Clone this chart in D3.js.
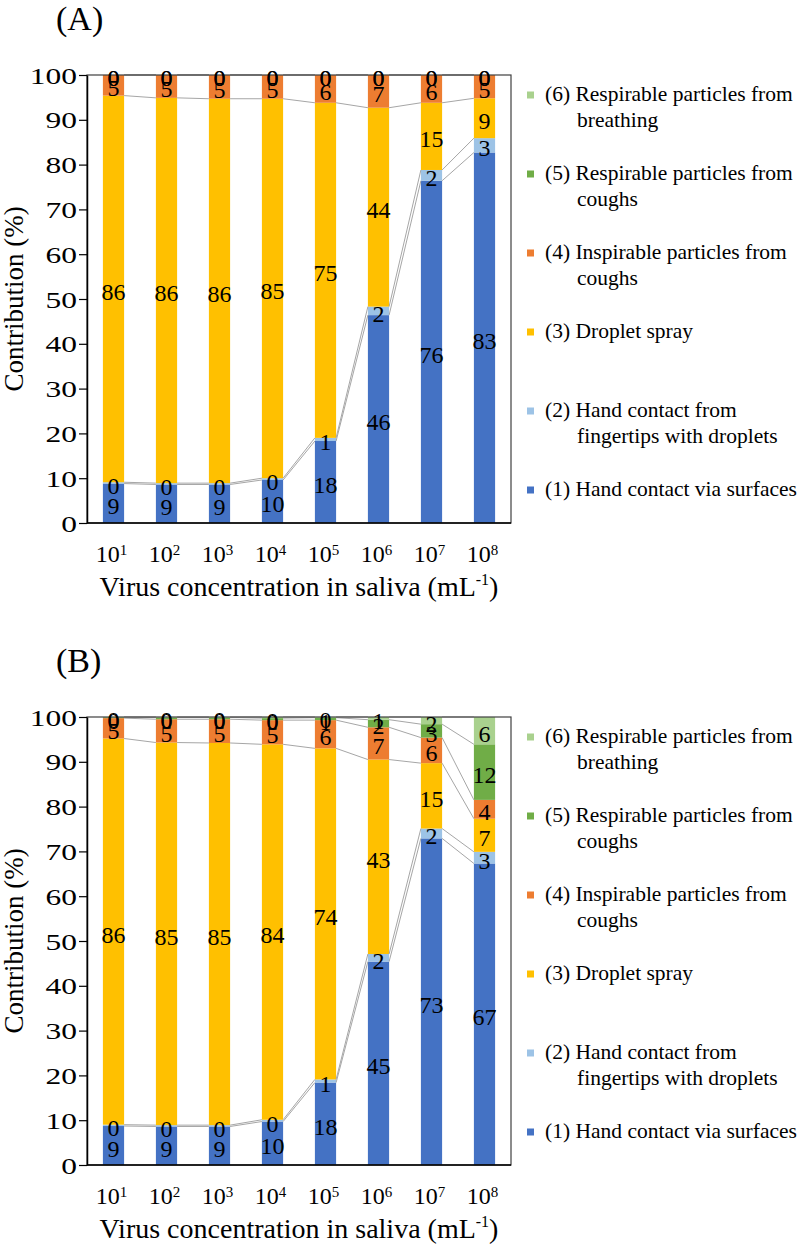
<!DOCTYPE html>
<html><head><meta charset="utf-8">
<script src="https://cdn.jsdelivr.net/npm/d3@7"></script>
<style>
body{margin:0;background:#fff}
svg{display:block}
svg text{font-family:'Liberation Serif','Times New Roman',Times,'DejaVu Serif','Noto Serif',serif !important;fill:#000}
</style>
</head><body>
<svg id="chart" width="799" height="1245" font-family="Liberation Serif, Times New Roman, DejaVu Serif, serif"></svg>
<script>
// ---------- data ----------
const exponents = ["1","2","3","4","5","6","7","8"];
const seriesKeys = ["s1","s2","s3","s4","s5","s6"];
const seriesColors = ["#4472C4","#9DC3E6","#FFC000","#ED7D31","#70AD47","#A9D18E"];
const legendLines = [
  ["(1) Hand contact via surfaces"],
  ["(2) Hand contact from","fingertips with droplets"],
  ["(3) Droplet spray"],
  ["(4) Inspirable particles from","coughs"],
  ["(5) Respirable particles from","coughs"],
  ["(6) Respirable particles from","breathing"]
];
const yTicks = [0,10,20,30,40,50,60,70,80,90,100];
const panelLabels = ["(A)","(B)"];
const xTitle = "Virus concentration in saliva (mL";
const yTitle = "Contribution (%)";

// Panel A (%)
const aHandSurfaces   = [8.8, 8.6, 8.6, 9.6, 18.3, 46.4, 76.4, 82.7];
const aHandFingertips = [0.3, 0.3, 0.3, 0.4, 0.7, 1.9, 2.4, 3.2];
const aDropletSpray   = [86.3, 86.0, 85.8, 84.7, 74.8, 44.4, 15.0, 8.9];
const aInspirable     = [4.6, 5.1, 5.3, 5.3, 6.2, 7.3, 6.2, 5.2];
const aRespCoughs     = [0, 0, 0, 0, 0, 0, 0, 0];
const aRespBreathing  = [0, 0, 0, 0, 0, 0, 0, 0];

// Panel B (%)
const bHandSurfaces   = [8.7, 8.6, 8.6, 9.7, 18.4, 45.4, 72.9, 67.3];
const bHandFingertips = [0.3, 0.3, 0.3, 0.4, 0.7, 1.7, 2.2, 2.6];
const bDropletSpray   = [86.2, 85.4, 85.3, 83.8, 73.9, 43.4, 14.6, 7.4];
const bInspirable     = [4.55, 5.2, 5.3, 5.4, 6.3, 7.2, 5.7, 4.2];
const bRespCoughs     = [0.2, 0.4, 0.4, 0.45, 0.55, 1.7, 3.0, 12.4];
const bRespBreathing  = [0.05, 0.1, 0.1, 0.25, 0.15, 0.6, 1.6, 6.1];

const panels = [
  {label: panelLabels[0], top: 75, series: [aHandSurfaces,aHandFingertips,aDropletSpray,aInspirable,aRespCoughs,aRespBreathing]},
  {label: panelLabels[1], top: 717, series: [bHandSurfaces,bHandFingertips,bDropletSpray,bInspirable,bRespCoughs,bRespBreathing]}
];

// ---------- drawing ----------
const svg = d3.select("#chart");
const plotLeft = 87, plotRight = 511, plotH = 448;
const FONT = "Liberation Serif, Times New Roman, DejaVu Serif, serif";

panels.forEach(p => {
  const top = p.top, bottom = top + plotH;
  const g = svg.append("g").attr("font-family", FONT);
  const rows = exponents.map((e,i) => {
    const r = {exp: e};
    seriesKeys.forEach((k,j) => r[k] = p.series[j][i]);
    return r;
  });
  const stack = d3.stack().keys(seriesKeys)(rows);

  const x = d3.scaleBand().domain(exponents).range([plotLeft, plotRight]).paddingInner(0.6).paddingOuter(0.3);
  const y = d3.scaleLinear().domain([0,100]).range([bottom, top]);
  const bw = x.bandwidth();

  // bars
  stack.forEach((s,j) => {
    g.append("g").attr("fill", seriesColors[j])
      .selectAll("rect").data(s).join("rect")
      .attr("x", d => x(d.data.exp))
      .attr("y", d => y(d[1]))
      .attr("width", bw)
      .attr("height", d => Math.max(0, y(d[0]) - y(d[1])));
  });

  // series lines
  stack.forEach((s,j) => {
    const segs = d3.pairs(s);
    g.append("g").attr("stroke", "#A6A6A6").attr("stroke-width", 1).attr("fill","none")
      .selectAll("line").data(segs).join("line")
      .attr("x1", d => x(d[0].data.exp) + bw)
      .attr("y1", d => y(d[0][1]))
      .attr("x2", d => x(d[1].data.exp))
      .attr("y2", d => y(d[1][1]));
  });

  // frame
  g.append("rect").attr("x", plotLeft).attr("y", top).attr("width", plotRight - plotLeft).attr("height", plotH)
    .attr("fill","none").attr("stroke","#404040").attr("stroke-width",1.2);

  // y axis
  const ya = g.append("g").attr("transform", `translate(${plotLeft},0)`)
    .call(d3.axisLeft(y).tickValues(yTicks).tickSize(8).tickSizeOuter(0).tickPadding(10).tickFormat(d3.format("d")));
  ya.attr("font-family", FONT);
  ya.select(".domain").attr("stroke","#000").attr("stroke-width",1.5);
  ya.selectAll(".tick line").attr("stroke","#000").attr("stroke-width",1.2);
  ya.selectAll(".tick text").attr("font-size", 22.5).attr("font-family", FONT)
    .attr("x", -10/1.4).attr("transform","scale(1.4,1)").attr("dy","0.36em");

  // x axis line
  g.append("line").attr("x1", plotLeft).attr("x2", plotRight).attr("y1", bottom).attr("y2", bottom)
    .attr("stroke","#000").attr("stroke-width",1.5);

  // x tick labels
  const xl = g.append("g").selectAll("text").data(exponents).join("text")
    .attr("x", d => x(d) + bw/2 - 2).attr("y", bottom + 39)
    .attr("text-anchor","middle").attr("font-size", 24);
  xl.append("tspan").text("10");
  xl.append("tspan").attr("font-size", 15).attr("dy", -7).text(d => d);

  // data labels
  stack.forEach((s,j) => {
    g.append("g").selectAll("text").data(s).join("text")
      .attr("x", d => x(d.data.exp) + bw/2)
      .attr("y", d => (y(d[0]) + y(d[1]))/2 + 3)
      .attr("text-anchor","middle").attr("dominant-baseline","central")
      .attr("font-size", 24)
      .text(d => Math.round(d[1] - d[0]));
  });

  // axis titles
  const xt = g.append("text").attr("x", (plotLeft+plotRight)/2).attr("y", bottom + 73)
    .attr("text-anchor","middle").attr("font-size", 28);
  xt.append("tspan").text(xTitle);
  xt.append("tspan").attr("font-size", 16).attr("dy", -11).text("-1");
  xt.append("tspan").attr("dy", 11).text(")");

  g.append("text").attr("transform", `translate(23,${(top+bottom)/2}) rotate(-90)`)
    .attr("text-anchor","middle").attr("font-size", 27).text(yTitle);

  // panel label
  g.append("text").attr("x", 56).attr("y", top - 45).attr("font-size", 34).text(p.label);

  // legend
  const lg = g.append("g");
  const order = [5,4,3,2,1,0];
  order.forEach((si, k) => {
    const base = top + 26 + k*79;
    lg.append("rect").attr("x", 527).attr("y", base - 9.5).attr("width", 7).attr("height", 7)
      .attr("fill", seriesColors[si]);
    const t = lg.append("text").attr("font-size", 21.5);
    legendLines[si].forEach((line, li) => {
      t.append("tspan").attr("x", li === 0 ? 545 : 577).attr("y", base + li*26).text(line);
    });
  });
});
</script>
</body></html>
